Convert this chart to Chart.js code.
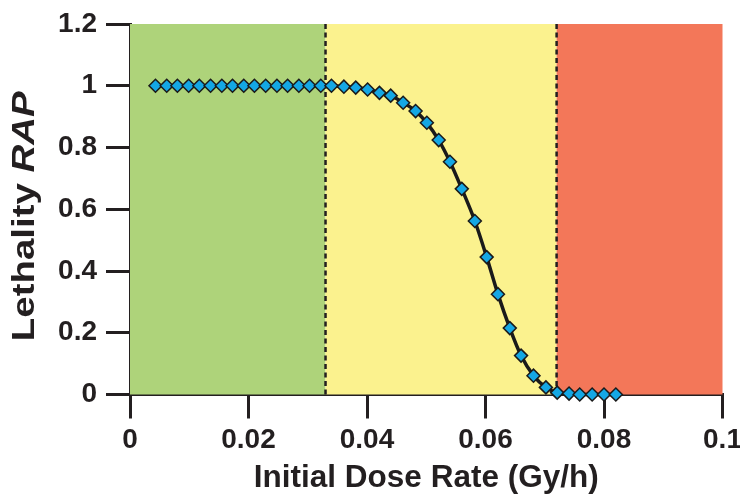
<!DOCTYPE html>
<html>
<head>
<meta charset="utf-8">
<script src="https://cdn.jsdelivr.net/npm/chart.js@4.4.1/dist/chart.umd.min.js"></script>
<style>
  html, body { margin: 0; padding: 0; background: #ffffff; }
  #wrap { width: 740px; height: 496px; position: relative; }
</style>
</head>
<body>
<div id="wrap"><canvas id="c" width="740" height="496"></canvas></div>
<script>
// ---- data ----
const doseRate = [0.0043, 0.0062, 0.0080, 0.0099, 0.0117, 0.0136, 0.0155, 0.0173, 0.0192, 0.0210,
                  0.0229, 0.0248, 0.0266, 0.0285, 0.0303, 0.0322, 0.0340, 0.0361, 0.0381, 0.0401,
                  0.0421, 0.0440, 0.0461, 0.0482, 0.0501, 0.0521, 0.0540, 0.0560, 0.0582, 0.0602,
                  0.0621, 0.0641, 0.0660, 0.0681, 0.0702, 0.0721, 0.0741, 0.0759, 0.0780, 0.0800, 0.0820];
const lethality = [1, 1, 1, 1, 1, 1, 1, 1, 1, 1,
                   1, 1, 1, 1, 1, 1, 1, 0.997, 0.994, 0.988,
                   0.977, 0.968, 0.945, 0.918, 0.880, 0.824, 0.754, 0.666, 0.562, 0.445,
                   0.325, 0.215, 0.126, 0.061, 0.023, 0.006, 0.003, 0, 0, 0, 0];
const zoneEdges = [0, 0.033, 0.072, 0.1];
const zoneColors = ['#aed37a', '#fbf28e', '#f37759'];
const dashedAt = [0.033, 0.072];
const xTickValues = [0, 0.02, 0.04, 0.06, 0.08, 0.1];
const xTickLabels = ['0', '0.02', '0.04', '0.06', '0.08', '0.1'];
const yTickValues = [0, 0.2, 0.4, 0.6, 0.8, 1, 1.2];
const yTickLabels = ['0', '0.2', '0.4', '0.6', '0.8', '1', '1.2'];
const xTitle = 'Initial Dose Rate (Gy/h)';
const yTitlePlain = 'Lethality ';
const yTitleItalic = 'RAP';

const INK = '#231f20';
const FONT = "'Liberation Sans', Arial, Helvetica, sans-serif";

const points = doseRate.map((x, i) => ({ x: x, y: lethality[i] }));

const zonesPlugin = {
  id: 'zones',
  beforeDatasetsDraw(chart) {
    const { ctx, scales: { x, y } } = chart;
    const top = y.getPixelForValue(y.max);
    const bottom = y.getPixelForValue(y.min);
    ctx.save();
    for (let i = 0; i < zoneColors.length; i++) {
      const x0 = x.getPixelForValue(zoneEdges[i]);
      const x1 = x.getPixelForValue(zoneEdges[i + 1]);
      ctx.fillStyle = zoneColors[i];
      ctx.fillRect(x0, top, x1 - x0, bottom - top);
    }
    ctx.strokeStyle = INK;
    ctx.lineWidth = 2.5;
    ctx.setLineDash([5, 3.5]);
    dashedAt.forEach(v => {
      const px = x.getPixelForValue(v);
      ctx.beginPath();
      ctx.moveTo(px, top);
      ctx.lineTo(px, bottom);
      ctx.stroke();
    });
    ctx.restore();
  }
};

const yTitlePlugin = {
  id: 'yTitle',
  afterDraw(chart) {
    const { ctx, scales: { y } } = chart;
    const cy = (y.getPixelForValue(y.max) + y.getPixelForValue(y.min)) / 2 + 7;
    ctx.save();
    ctx.fillStyle = INK;
    ctx.textBaseline = 'alphabetic';
    ctx.textAlign = 'left';
    ctx.translate(33.5, cy);
    ctx.rotate(-Math.PI / 2);
    ctx.scale(1.24, 1);
    ctx.font = 'bold 31px ' + FONT;
    const w1 = ctx.measureText(yTitlePlain).width;
    ctx.font = 'italic bold 31px ' + FONT;
    const w2 = ctx.measureText(yTitleItalic).width;
    const start = -(w1 + w2) / 2;
    ctx.font = 'bold 31px ' + FONT;
    ctx.fillText(yTitlePlain, start, 0);
    ctx.font = 'italic bold 31px ' + FONT;
    ctx.fillText(yTitleItalic, start + w1, 0);
    ctx.restore();
  }
};

new Chart(document.getElementById('c'), {
  type: 'line',
  data: {
    datasets: [{
      data: points,
      borderColor: '#1a1a1a',
      borderWidth: 3.5,
      cubicInterpolationMode: 'monotone',
      pointStyle: 'rectRot',
      pointRadius: 6.5,
      pointHoverRadius: 6.5,
      pointBackgroundColor: '#14a7e4',
      pointBorderColor: '#1a1a1a',
      pointBorderWidth: 1.5,
      clip: false,
      fill: false
    }]
  },
  options: {
    responsive: false,
    animation: false,
    events: [],
    layout: { padding: { top: 24, right: 17.5, left: 0, bottom: 0 } },
    plugins: { legend: { display: false }, tooltip: { enabled: false } },
    scales: {
      x: {
        type: 'linear',
        min: 0,
        max: 0.1,
        afterBuildTicks(scale) { scale.ticks = xTickValues.map(v => ({ value: v })); },
        afterFit(scale) {
          scale.height = 101.5;
          scale.paddingLeft = 0; scale.paddingRight = 0;
        },
        border: { display: true, color: INK, width: 3 },
        grid: {
          drawOnChartArea: false, drawTicks: true, tickLength: 24,
          color: INK, tickColor: INK, lineWidth: 3, tickWidth: 3
        },
        ticks: {
          padding: 5,
          color: INK,
          maxRotation: 0,
          autoSkip: false,
          font: { family: FONT, size: 28, weight: 'bold' },
          callback(value) {
            const i = xTickValues.findIndex(v => Math.abs(v - value) < 1e-9);
            return i >= 0 ? xTickLabels[i] : '';
          }
        },
        title: {
          display: true,
          text: xTitle,
          color: INK,
          font: { family: FONT, size: 31.5, weight: 'bold', lineHeight: 1 },
          padding: { top: 0, bottom: 1.5 }
        }
      },
      y: {
        type: 'linear',
        min: 0,
        max: 1.2,
        afterBuildTicks(scale) { scale.ticks = yTickValues.map(v => ({ value: v })); },
        afterFit(scale) {
          scale.width = 130;
          scale.paddingTop = 0; scale.paddingBottom = 0;
        },
        border: { display: true, color: INK, width: 3 },
        grid: {
          drawOnChartArea: false, drawTicks: true, tickLength: 24,
          color: INK, tickColor: INK, lineWidth: 3, tickWidth: 3
        },
        ticks: {
          padding: 9,
          color: INK,
          autoSkip: false,
          font: { family: FONT, size: 28, weight: 'bold' },
          callback(value) {
            const i = yTickValues.findIndex(v => Math.abs(v - value) < 1e-9);
            return i >= 0 ? yTickLabels[i] : '';
          }
        }
      }
    }
  },
  plugins: [zonesPlugin, yTitlePlugin]
});
</script>
</body>
</html>
